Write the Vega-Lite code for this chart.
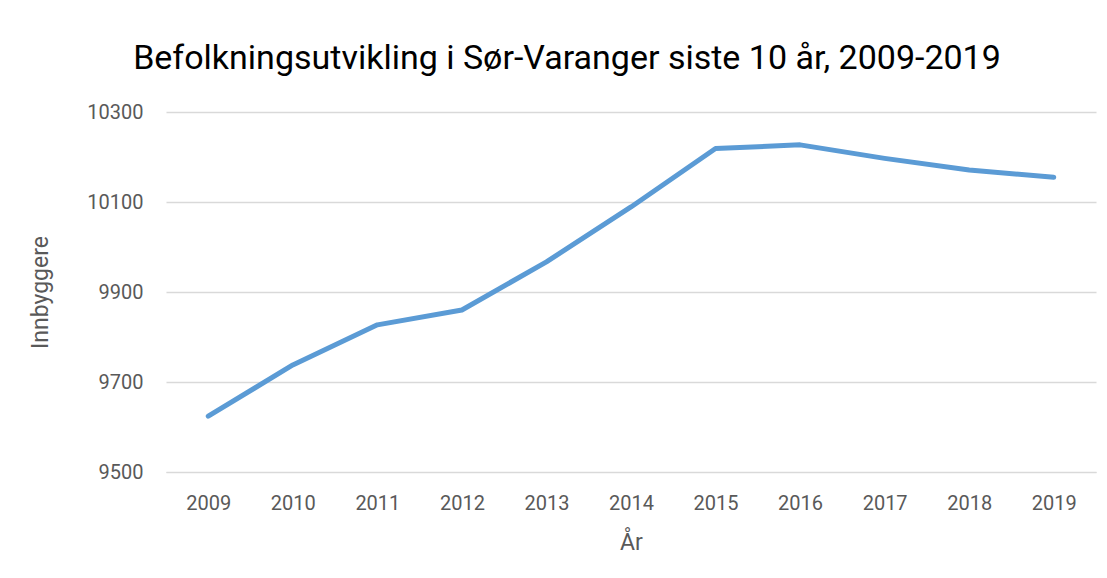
{
  "$schema": "https://vega.github.io/schema/vega-lite/v6.json",
  "width": 930,
  "height": 360,
  "autosize": {"type": "none"},
  "padding": {"left": 166, "top": 112, "right": 11, "bottom": 106},
  "background": "white",
  "title": {
    "text": "Befolkningsutvikling i Sør-Varanger siste 10 år, 2009-2019",
    "font": "Roboto",
    "fontSize": 34,
    "fontWeight": "normal",
    "color": "#000000",
    "anchor": "middle",
    "dx": -64,
    "offset": 26
  },
  "data": {
    "values": [
      {"year": "2009", "pop": 9624},
      {"year": "2010", "pop": 9738},
      {"year": "2011", "pop": 9827},
      {"year": "2012", "pop": 9860},
      {"year": "2013", "pop": 9967},
      {"year": "2014", "pop": 10089},
      {"year": "2015", "pop": 10219},
      {"year": "2016", "pop": 10227},
      {"year": "2017", "pop": 10197},
      {"year": "2018", "pop": 10171},
      {"year": "2019", "pop": 10155}
    ]
  },
  "mark": {"type": "line", "color": "#5B9BD5", "strokeWidth": 5, "strokeCap": "round", "strokeJoin": "round"},
  "encoding": {
    "x": {
      "field": "year",
      "type": "ordinal",
      "scale": {"paddingInner": 0, "paddingOuter": 0.5, "align": 0.5},
      "axis": {
        "title": "År",
        "labelAngle": 0,
        "ticks": false,
        "domain": true,
        "domainColor": "#D9D9D9",
        "labelPadding": 21,
        "titlePadding": 18,
        "grid": false
      }
    },
    "y": {
      "field": "pop",
      "type": "quantitative",
      "scale": {"domain": [9500, 10300], "zero": false, "nice": false},
      "axis": {
        "title": "Innbyggere",
        "format": "d",
        "values": [9500, 9700, 9900, 10100, 10300],
        "ticks": false,
        "domain": false,
        "grid": true,
        "gridColor": "#D9D9D9",
        "gridWidth": 1.3,
        "labelPadding": 23,
        "titlePadding": 34
      }
    }
  },
  "config": {
    "view": {"stroke": null},
    "axis": {
      "labelFont": "Roboto",
      "labelFontSize": 20,
      "labelColor": "#595959",
      "titleFont": "Roboto",
      "titleFontSize": 23,
      "titleFontWeight": "normal",
      "titleColor": "#595959"
    }
  }
}
